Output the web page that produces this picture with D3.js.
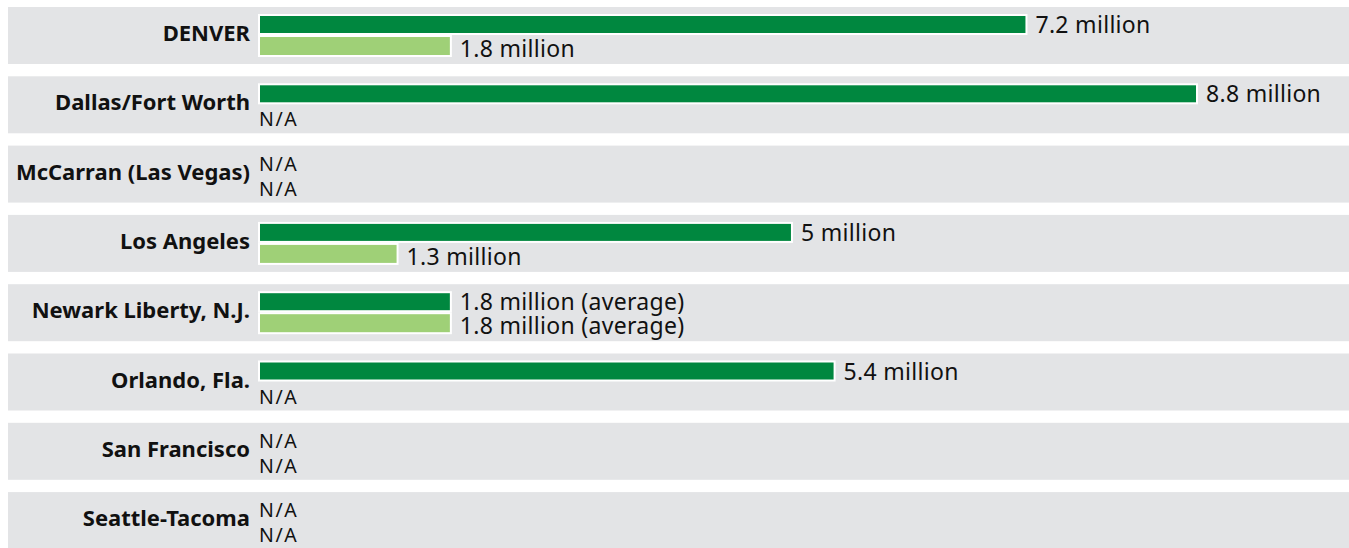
<!DOCTYPE html>
<html lang="en">
<head>
    <meta charset="UTF-8">
    <title>Airport passengers</title>
    <script src="https://cdn.jsdelivr.net/npm/d3@7"></script>
    <style>
        html, body {
            margin: 0;
            padding: 0;
            width: 100%;
            height: 100%;
            overflow: hidden;
            background: #ffffff;
        }
        .cat {
            font-family: "Noto Sans", sans-serif;
            font-weight: 700;
            font-size: 22px;
            fill: #111;
            text-anchor: end;
        }
        .val {
            font-family: "Noto Sans", sans-serif;
            font-size: 23px;
            letter-spacing: 0.3px;
            fill: #111;
        }
        .na {
            font-family: "Noto Sans", sans-serif;
            font-size: 19.5px;
            letter-spacing: 1.6px;
            fill: #111;
        }
    </style>
</head>
<body>
</body>
<script>
    let width = 1349;
    let height = 548;

    // data
    let airports = ['DENVER', 'Dallas/Fort Worth', 'McCarran (Las Vegas)', 'Los Angeles',
        'Newark Liberty, N.J.', 'Orlando, Fla.', 'San Francisco', 'Seattle-Tacoma'];
    let darkValues = [7.2, 8.8, null, 5, 1.8, 5.4, null, null];
    let lightValues = [1.8, null, null, 1.3, 1.8, null, null, null];
    let darkLabels = ['7.2 million', '8.8 million', 'N/A', '5 million', '1.8 million (average)', '5.4 million', 'N/A', 'N/A'];
    let lightLabels = ['1.8 million', 'N/A', 'N/A', '1.3 million', '1.8 million (average)', 'N/A', 'N/A', 'N/A'];

    let svg = d3.select('body')
        .append('svg')
        .attr('width', width)
        .attr('height', height);

    // 行比例尺
    let y = d3.scaleBand()
        .domain(airports)
        .range([7, 549.1])
        .paddingInner(0.1775)
        .paddingOuter(0);

    // 数值比例尺
    let x = d3.scaleLinear()
        .domain([0, 8.8])
        .range([259, 1197]);

    let rows = svg.selectAll('.row')
        .data(airports.map((name, i) => ({
            name: name,
            dark: darkValues[i],
            light: lightValues[i],
            darkLabel: darkLabels[i],
            lightLabel: lightLabels[i]
        })))
        .enter().append('g')
        .classed('row', true)
        .attr('transform', d => `translate(0,${y(d.name)})`);

    // 灰色背景
    rows.append('rect')
        .attr('x', 8)
        .attr('y', 0)
        .attr('width', width - 8)
        .attr('height', y.bandwidth())
        .attr('fill', '#e3e4e6');

    // 分类名称
    rows.append('text')
        .classed('cat', true)
        .attr('x', 250)
        .attr('y', 34)
        .text(d => d.name);

    // 深色条
    rows.filter(d => d.dark != null)
        .append('rect')
        .attr('x', x(0))
        .attr('y', 8)
        .attr('width', d => x(d.dark) - x(0))
        .attr('height', 19)
        .attr('fill', '#00873f')
        .attr('stroke', '#ffffff')
        .attr('stroke-width', 2);

    // 浅色条
    rows.filter(d => d.light != null)
        .append('rect')
        .attr('x', x(0))
        .attr('y', 29)
        .attr('width', d => x(d.light) - x(0))
        .attr('height', 20)
        .attr('fill', '#9fd077')
        .attr('stroke', '#ffffff')
        .attr('stroke-width', 2);

    // 数值标签
    rows.append('text')
        .attr('class', d => d.dark != null ? 'val' : 'na')
        .attr('x', d => d.dark != null ? x(d.dark) + 9 : x(0))
        .attr('y', d => d.dark != null ? 26 : 25)
        .text(d => d.darkLabel);

    rows.append('text')
        .attr('class', d => d.light != null ? 'val' : 'na')
        .attr('x', d => d.light != null ? x(d.light) + 9 : x(0))
        .attr('y', 50)
        .text(d => d.lightLabel);
</script>
</html>
